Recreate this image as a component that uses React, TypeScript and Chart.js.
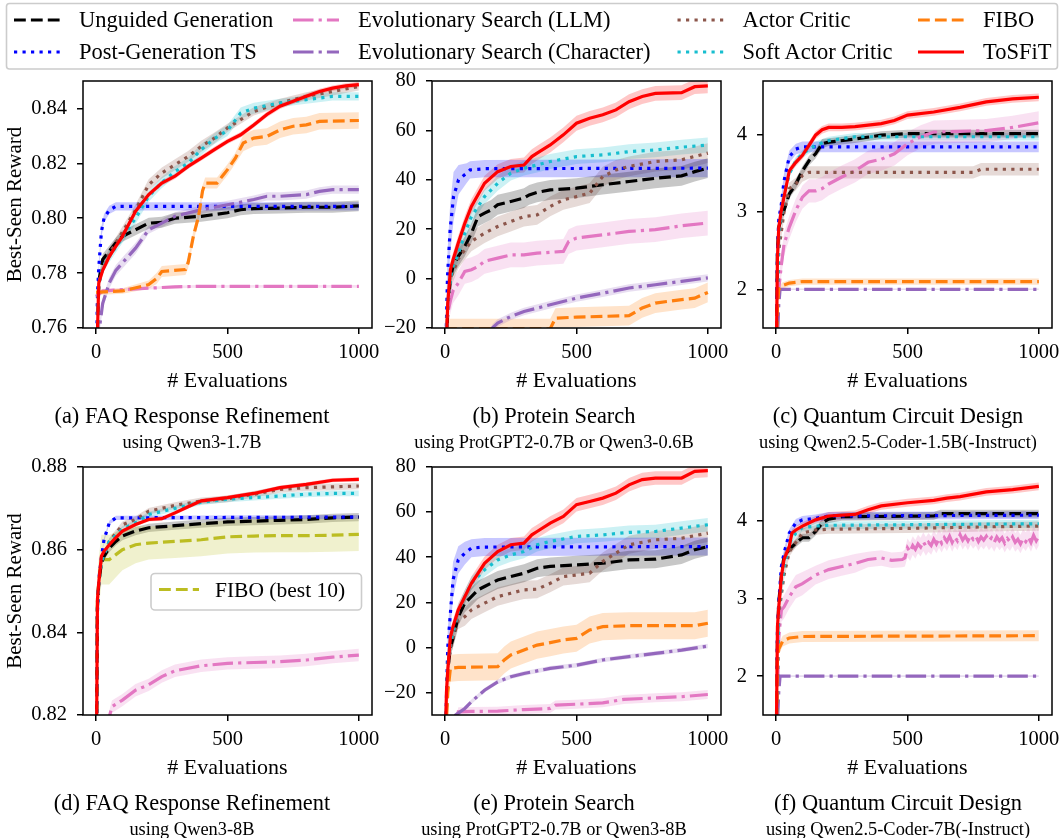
import React, { useEffect, useRef } from "react";
import { Chart, registerables } from "chart.js";

Chart.register(...registerables);

const FONT = "'Liberation Serif', 'Times New Roman', serif";

// ---------------- series names (legend order) ----------------
const SERIES_LABELS = [
  "Unguided Generation",
  "Post-Generation TS",
  "Evolutionary Search (LLM)",
  "Evolutionary Search (Character)",
  "Actor Critic",
  "Soft Actor Critic",
  "FIBO",
  "ToSFiT",
];
const FIBO_BEST10_LABEL = "FIBO (best 10)";

// ---------------- tick values ----------------
const X_TICKS = [0, 500, 1000];
const Y_TICKS_A = [0.76, 0.78, 0.8, 0.82, 0.84];
const Y_TICKS_B = [-20, 0, 20, 40, 60, 80];
const Y_TICKS_C = [2, 3, 4];
const Y_TICKS_D = [0.82, 0.84, 0.86, 0.88];
const Y_TICKS_E = [-20, 0, 20, 40, 60, 80];
const Y_TICKS_F = [2, 3, 4];

// ---------------- data: [evaluations, mean best-seen reward, band half-width] ----------------
// (a) FAQ Response Refinement, Qwen3-1.7B
const A_UNG = [[0,0.74,0.002],[10,0.777,0.002],[25,0.785,0.002],[50,0.788,0.002],[75,0.791,0.002],[100,0.7934,0.002],[150,0.7958,0.002],[200,0.7982,0.002],[250,0.7985,0.002],[300,0.8,0.002],[400,0.8007,0.002],[500,0.802,0.002],[550,0.8031,0.002],[600,0.8035,0.002],[700,0.8037,0.002],[800,0.804,0.002],[900,0.804,0.002],[1000,0.8045,0.002]];
const A_PGT = [[0,0.74,0.001],[5,0.772,0.002],[10,0.782,0.002],[20,0.795,0.002],[30,0.8,0.0015],[50,0.803,0.0015],[75,0.8043,0.0015],[1000,0.8043,0.0015]];
const A_ESL = [[0,0.7715,0.001],[25,0.7735,0.0008],[100,0.774,0.0005],[200,0.7745,0.0005],[300,0.775,0.0005],[400,0.7752,0.0005],[1000,0.7752,0.0005]];
const A_ESC = [[0,0.74,0.002],[10,0.758,0.002],[25,0.769,0.002],[50,0.7764,0.002],[75,0.781,0.002],[100,0.7837,0.002],[150,0.7891,0.002],[200,0.7958,0.0015],[250,0.7982,0.0015],[300,0.8007,0.0015],[400,0.8031,0.0015],[500,0.8049,0.0015],[600,0.8068,0.0015],[650,0.808,0.0015],[700,0.808,0.0015],[800,0.8086,0.0015],[850,0.8098,0.0015],[900,0.8104,0.0015],[1000,0.8104,0.0015]];
const A_AC = [[0,0.74,0.002],[10,0.776,0.002],[25,0.782,0.002],[50,0.787,0.002],[100,0.795,0.002],[150,0.803,0.002],[200,0.8122,0.002],[250,0.8165,0.002],[300,0.8195,0.002],[350,0.8225,0.002],[400,0.8262,0.002],[450,0.8292,0.002],[500,0.8329,0.0015],[550,0.8359,0.0015],[600,0.8389,0.0015],[700,0.842,0.0015],[800,0.8444,0.0015],[900,0.8462,0.0015],[1000,0.848,0.0015]];
const A_SAC = [[0,0.74,0.002],[10,0.776,0.002],[25,0.782,0.002],[50,0.786,0.002],[100,0.793,0.002],[150,0.8,0.002],[200,0.808,0.002],[250,0.813,0.002],[300,0.817,0.002],[350,0.82,0.002],[400,0.825,0.002],[450,0.829,0.002],[500,0.832,0.002],[550,0.8383,0.002],[600,0.8401,0.002],[700,0.842,0.0015],[800,0.8432,0.0015],[900,0.8444,0.0015],[1000,0.8444,0.0015]];
const A_FIBO = [[0,0.773,0.001],[100,0.7735,0.001],[200,0.7758,0.0015],[230,0.778,0.002],[250,0.7806,0.002],[340,0.7813,0.002],[350,0.7837,0.002],[370,0.7934,0.002],[390,0.8007,0.002],[405,0.81,0.002],[415,0.8128,0.002],[460,0.8128,0.002],[480,0.8153,0.002],[500,0.8177,0.002],[530,0.8219,0.002],[560,0.8274,0.003],[600,0.8292,0.003],[650,0.8298,0.003],[700,0.8322,0.003],[750,0.8335,0.003],[800,0.834,0.003],[850,0.8353,0.003],[1000,0.8356,0.003]];
const A_TOS = [[0,0.74,0.001],[10,0.7764,0.001],[25,0.781,0.001],[50,0.786,0.001],[75,0.7898,0.001],[100,0.7934,0.001],[125,0.798,0.001],[150,0.8025,0.001],[200,0.8086,0.001],[250,0.8128,0.001],[300,0.8153,0.001],[350,0.8189,0.001],[400,0.8219,0.001],[450,0.825,0.001],[500,0.828,0.001],[550,0.8304,0.001],[600,0.834,0.001],[650,0.8378,0.001],[700,0.8408,0.001],[750,0.8426,0.001],[800,0.8444,0.001],[850,0.8462,0.001],[900,0.8474,0.001],[950,0.8482,0.001],[1000,0.8487,0.001]];

// (b) Protein Search, ProtGPT2-0.7B or Qwen3-0.6B
const B_UNG = [[0,-40,4],[10,-13,4],[20,0,4],[30,5,4],[50,9,4],[75,13,4],[100,18.4,4],[125,25.1,4],[150,26.5,4],[175,27.8,4],[200,29.9,4],[250,31.2,4],[300,32.6,4],[320,33.9,4],[350,34.9,4],[400,35.9,4],[500,36.6,4],[600,38,4],[700,39.3,4],[800,40.6,4],[900,41.6,4],[950,43.3,4],[1000,44.7,4]];
const B_PGT = [[0,-40,6],[9,0.9,10],[19,19.8,10],[32,33.2,10],[51,40,6],[82,42.7,4],[95,44,3.5],[150,44.5,3.5],[1000,44.7,3.7]];
const B_ESL = [[0,-40,5],[5,-20,5],[10,-14,5],[20,-9,5],[30,-5,5],[50,-1.8,5],[75,2.9,5],[100,3.6,5],[125,4.9,5],[150,7,5],[200,8.3,5],[250,9.6,5],[300,9.6,5],[350,10.3,5],[450,11,5],[470,15,5],[500,16.4,5],[600,17.7,5],[700,19.1,5],[800,19.8,5],[900,21.4,5],[1000,22.5,5]];
const B_ESC = [[0,-60,1.5],[180,-20,1.5],[200,-18,1.5],[250,-15.3,1.5],[300,-13.3,1.5],[400,-10.6,1.5],[500,-7.9,1.5],[600,-5.9,1.5],[700,-3.8,1.5],[800,-2.5,1.5],[900,-1.1,1.5],[1000,0.3,1.5]];
const B_AC = [[0,-40,4],[10,-12,4],[20,0,4],[50,8,4],[75,11.7,4],[100,15.1,4],[150,18.4,4],[200,21.1,4],[250,23.1,4],[300,25.1,4],[350,25.8,4],[400,29.2,4],[450,31.9,4],[500,33.2,4],[550,34.6,4],[600,41.3,4],[650,44,4],[700,45.4,4],[800,47.4,4],[900,48.1,4],[1000,50.8,4]];
const B_SAC = [[0,-40,3],[10,-10,3],[20,0,3],[30,5,3],[50,10,3],[75,18.4,3],[100,25.1,3],[150,33.2,3],[200,38.6,3],[250,42.7,3],[300,44.7,3],[350,46,3],[400,47.4,3],[500,49.4,3],[600,50.1,3],[700,51.4,3],[800,52.1,3],[900,53.2,3],[1000,54.1,3]];
const B_FIBO = [[0,-20.3,4],[400,-20.3,4],[420,-16,4],[500,-15.6,4],[600,-15.3,4],[700,-15,4],[750,-11.9,4],[800,-9.9,4],[900,-8.5,4],[950,-7.9,4],[1000,-5.6,4]];
const B_TOS = [[0,-40,3],[10,-9.9,3],[20,3.6,3],[30,7.6,3],[50,14.4,3],[75,22.4,3],[100,29.2,3],[150,38.6,3],[200,43.3,3],[250,45.4,3],[300,46,3],[330,49.4,3],[350,50.8,3],[400,54.1,3],[450,58.2,3],[500,62.9,3],[550,64.9,3],[600,66.3,3],[650,68.3,3],[700,71.6,3],[750,73.7,3],[800,75,3],[900,75.3,3],[950,77.7,3],[1000,78,3]];

// (c) Quantum Circuit Design, Qwen2.5-Coder-1.5B(-Instruct)
const C_UNG = [[0,1,0.05],[5,2.5,0.08],[10,2.8,0.08],[20,2.92,0.06],[30,3.02,0.06],[50,3.23,0.06],[75,3.36,0.06],[100,3.53,0.06],[125,3.66,0.06],[150,3.75,0.06],[175,3.88,0.06],[200,3.9,0.05],[300,3.94,0.05],[400,3.99,0.05],[500,4.01,0.05],[1000,4.01,0.05]];
const C_PGT = [[0,1,0.05],[5,2.5,0.1],[10,2.9,0.1],[20,3.1,0.1],[30,3.4,0.1],[50,3.71,0.08],[75,3.81,0.07],[100,3.84,0.07],[1000,3.84,0.07]];
const C_ESL = [[0,1,0.1],[10,2,0.15],[20,2.32,0.15],[30,2.58,0.15],[50,2.8,0.15],[75,3.02,0.15],[100,3.19,0.15],[125,3.27,0.15],[150,3.27,0.15],[175,3.3,0.15],[200,3.36,0.15],[250,3.45,0.15],[300,3.53,0.15],[350,3.64,0.15],[400,3.68,0.15],[450,3.75,0.15],[500,3.88,0.15],[550,3.97,0.15],[600,4.03,0.15],[700,4.04,0.15],[800,4.05,0.15],[900,4.09,0.15],[1000,4.15,0.15]];
const C_ESC = [[0,1,0.01],[10,1.8,0.01],[15,2,0.01],[1000,2,0.01]];
const C_AC = [[0,1,0.08],[10,2.5,0.08],[30,3,0.08],[50,3.3,0.08],[75,3.36,0.08],[100,3.47,0.08],[125,3.51,0.08],[750,3.51,0.08],[780,3.55,0.08],[1000,3.55,0.08]];
const C_SAC = [[0,1,0.05],[10,2.7,0.05],[30,3.2,0.05],[50,3.49,0.05],[75,3.66,0.05],[100,3.75,0.05],[150,3.86,0.05],[200,3.92,0.05],[300,3.97,0.05],[1000,3.97,0.05]];
const C_FIBO = [[0,1,0.04],[5,1.8,0.04],[10,2,0.04],[25,2.05,0.04],[50,2.08,0.04],[100,2.1,0.04],[1000,2.1,0.04]];
const C_TOS = [[0,1,0.05],[5,2.41,0.05],[10,2.8,0.05],[20,3.02,0.05],[30,3.19,0.05],[50,3.53,0.05],[75,3.64,0.05],[100,3.73,0.05],[125,3.86,0.05],[150,3.99,0.05],[175,4.06,0.05],[200,4.09,0.05],[250,4.09,0.05],[300,4.1,0.05],[400,4.14,0.05],[450,4.18,0.05],[500,4.25,0.05],[600,4.29,0.05],[700,4.35,0.05],[800,4.42,0.05],[900,4.46,0.05],[1000,4.48,0.05]];

// (d) FAQ Response Refinement, Qwen3-8B
const D_UNG = [[0,0.8,0.001],[5,0.846,0.001],[10,0.852,0.001],[20,0.8568,0.001],[30,0.8584,0.001],[50,0.8604,0.001],[75,0.862,0.001],[100,0.8633,0.001],[150,0.8645,0.001],[200,0.8653,0.001],[300,0.8658,0.001],[400,0.8663,0.001],[500,0.8667,0.001],[600,0.8669,0.001],[700,0.8671,0.001],[800,0.8673,0.001],[900,0.8677,0.001],[1000,0.8679,0.001]];
const D_PGT = [[0,0.8,0.0005],[5,0.845,0.0005],[10,0.8527,0.0005],[20,0.858,0.0005],[30,0.8624,0.0005],[50,0.8665,0.0005],[75,0.8677,0.0005],[1000,0.8679,0.0005]];
const D_ESL = [[0,0.8,0.0015],[50,0.8195,0.0015],[60,0.822,0.0015],[100,0.8236,0.0015],[150,0.826,0.0015],[200,0.8273,0.0015],[250,0.8293,0.0015],[300,0.8307,0.0015],[400,0.8319,0.0015],[500,0.8325,0.0015],[600,0.8327,0.0015],[700,0.8329,0.0015],[800,0.8333,0.0015],[900,0.834,0.0015],[1000,0.8345,0.0015]];
const D_AC = [[0,0.8,0.0008],[5,0.847,0.0008],[10,0.852,0.0008],[20,0.857,0.0008],[50,0.862,0.0008],[100,0.866,0.0008],[150,0.8673,0.0008],[200,0.8693,0.0008],[300,0.8707,0.0008],[400,0.8718,0.0008],[500,0.8723,0.0008],[600,0.8734,0.0008],[700,0.8746,0.0008],[800,0.875,0.0008],[900,0.8752,0.0008],[1000,0.8754,0.0008]];
const D_SAC = [[0,0.8,0.0007],[5,0.847,0.0007],[10,0.852,0.0007],[20,0.857,0.0007],[50,0.862,0.0007],[100,0.865,0.0007],[150,0.8665,0.0007],[200,0.8685,0.0007],[300,0.87,0.0007],[400,0.8715,0.0007],[500,0.8722,0.0007],[600,0.8726,0.0007],[700,0.873,0.0007],[800,0.8734,0.0007],[900,0.8736,0.0007],[1000,0.8736,0.0007]];
const D_FB10 = [[0,0.8,0.006],[5,0.848,0.006],[10,0.852,0.006],[20,0.8576,0.006],[50,0.8576,0.006],[75,0.8588,0.0055],[100,0.86,0.005],[150,0.8612,0.0045],[200,0.8616,0.004],[300,0.862,0.004],[400,0.8624,0.004],[500,0.8631,0.004],[600,0.8633,0.004],[700,0.8634,0.004],[800,0.8634,0.004],[900,0.8635,0.004],[1000,0.8637,0.004]];
const D_TOS = [[0,0.8,0.0005],[5,0.848,0.0005],[10,0.852,0.0005],[20,0.8584,0.0005],[30,0.8596,0.0005],[50,0.8612,0.0005],[75,0.8629,0.0005],[100,0.8645,0.0005],[150,0.8661,0.0005],[200,0.8673,0.0005],[250,0.8675,0.0005],[300,0.8689,0.0005],[350,0.8704,0.0005],[400,0.8718,0.0005],[500,0.8726,0.0005],[600,0.8736,0.0005],[700,0.875,0.0005],[800,0.8758,0.0005],[900,0.8768,0.0005],[1000,0.877,0.0005]];

// (e) Protein Search, ProtGPT2-0.7B or Qwen3-8B
const E_UNG = [[0,-45,4],[10,-10,4],[20,0,4],[30,4,4],[50,13.6,4],[75,19.6,4],[100,22.5,4],[125,25.5,4],[150,27,4],[200,29.9,4],[250,31.4,4],[300,32.9,4],[350,35.1,4],[400,35.9,4],[500,36.6,4],[600,37.3,4],[700,38.8,4],[800,39.1,4],[900,41,4],[950,43.3,4],[1000,44.7,4]];
const E_PGT = [[0,-45,6],[10,0,8],[20,15.1,8],[30,29.9,8],[50,38.8,6],[75,41.8,5],[100,44,4],[150,44.5,4],[1000,44.7,4]];
const E_ESL = [[0,-60,2],[50,-28.6,2],[100,-28.4,2],[200,-28.3,2],[300,-27.6,2],[400,-27.1,2],[420,-25.6,2],[500,-25.2,2],[600,-24.6,2],[680,-23.1,2],[800,-22.4,2],[900,-21.9,2],[1000,-20.9,2]];
const E_ESC = [[0,-60,1],[40,-30,1],[75,-27.1,1],[100,-24.1,1],[150,-19,1],[200,-15.3,1],[250,-13,1],[300,-11.6,1],[400,-9.3,1],[500,-7.9,1],[600,-5.6,1],[700,-4.1,1],[800,-2.7,1],[900,-1.2,1],[1000,0.6,1]];
const E_AC = [[0,-45,4],[10,-10,4],[20,0,4],[50,12.1,4],[75,13.6,4],[100,16.6,4],[150,19.6,4],[200,22.5,4],[250,24,4],[300,25.5,4],[350,25.8,4],[400,28.4,4],[450,31.4,4],[500,32.1,4],[550,32.9,4],[600,38.1,4],[650,41.8,4],[700,45.5,4],[800,47.7,4],[900,48.4,4],[1000,50.7,4]];
const E_SAC = [[0,-45,3],[10,-8,3],[20,2,3],[50,15.9,3],[75,22.5,3],[100,28.4,3],[150,34.4,3],[200,38.8,3],[250,41,3],[300,42.5,3],[350,45.5,3],[400,47,3],[500,49.2,3],[600,49.9,3],[700,51,3],[800,51.4,3],[900,52.9,3],[1000,54.4,3]];
const E_FIBO = [[0,-45,6],[10,-20,6],[20,-9.3,6],[50,-8.9,6],[200,-8.6,6],[225,-5.6,6],[250,-3.4,6],[300,-1.2,6],[350,1,6],[400,2.1,6],[450,3.3,6],[500,4,6],[550,7.7,6],[600,9.2,6],[700,9.6,6],[950,9.6,6],[1000,10.7,6]];
const E_TOS = [[0,-45,3],[5,-20,3],[10,-10,3],[20,4.7,3],[30,9.2,3],[50,16.6,3],[75,22.5,3],[100,28.4,3],[150,37.3,3],[200,42.5,3],[250,45.5,3],[300,46.2,3],[330,49.9,3],[350,51.4,3],[400,55.1,3],[450,58.1,3],[500,63.3,3],[550,64.7,3],[600,66.2,3],[650,68.4,3],[700,72.1,3],[750,74.4,3],[800,75.1,3],[900,75.1,3],[950,78.1,3],[1000,78.4,3]];

// (f) Quantum Circuit Design, Qwen2.5-Coder-7B(-Instruct)
const F_UNG = [[0,1,0.05],[5,2.5,0.05],[10,2.95,0.05],[20,3.3,0.05],[30,3.54,0.05],[50,3.63,0.05],[75,3.71,0.05],[100,3.78,0.05],[125,3.78,0.05],[150,3.86,0.05],[175,3.97,0.05],[200,4.02,0.05],[250,4.05,0.05],[600,4.06,0.05],[625,4.09,0.05],[1000,4.09,0.05]];
const F_PGT = [[0,1,0.05],[5,2.6,0.05],[10,2.95,0.05],[20,3.41,0.05],[30,3.58,0.05],[50,3.84,0.05],[75,3.97,0.05],[100,4.01,0.05],[150,4.03,0.05],[200,4.06,0.05],[1000,4.07,0.05]];
const F_ESL = [[0,1,0.1],[10,2.5,0.15],[20,2.85,0.15],[30,2.89,0.15],[50,3.02,0.15],[75,3.15,0.15],[100,3.19,0.15],[150,3.3,0.12],[200,3.37,0.12],[250,3.41,0.12],[300,3.45,0.12],[350,3.5,0.1],[400,3.52,0.1],[440,3.49,0.1],[480,3.5,0.1],[490,3.52,0.11],[500,3.65,0.12],[510,3.6,0.12],[520,3.68,0.12],[530,3.63,0.12],[540,3.7,0.12],[550,3.66,0.12],[560,3.73,0.12],[570,3.67,0.12],[580,3.72,0.12],[590,3.68,0.12],[600,3.76,0.12],[610,3.7,0.12],[620,3.77,0.12],[630,3.71,0.12],[640,3.78,0.12],[650,3.73,0.12],[660,3.8,0.12],[670,3.72,0.12],[680,3.79,0.12],[690,3.74,0.12],[700,3.82,0.12],[710,3.75,0.12],[720,3.8,0.12],[730,3.74,0.12],[740,3.81,0.12],[750,3.76,0.12],[760,3.8,0.12],[770,3.73,0.12],[780,3.79,0.12],[790,3.75,0.12],[800,3.8,0.12],[810,3.74,0.12],[820,3.78,0.12],[830,3.72,0.12],[840,3.79,0.12],[850,3.74,0.12],[860,3.78,0.12],[870,3.71,0.12],[880,3.77,0.12],[890,3.73,0.12],[900,3.79,0.12],[910,3.72,0.12],[920,3.76,0.12],[930,3.7,0.12],[940,3.77,0.12],[950,3.73,0.12],[960,3.79,0.12],[970,3.72,0.12],[980,3.81,0.12],[990,3.74,0.12],[1000,3.8,0.12]];
const F_ESC = [[0,1,0.01],[10,1.8,0.01],[15,2,0.01],[1000,2,0.01]];
const F_AC = [[0,1,0.06],[10,2.8,0.06],[30,3.3,0.06],[50,3.6,0.06],[100,3.84,0.06],[150,3.88,0.06],[200,3.89,0.06],[500,3.9,0.06],[800,3.92,0.06],[1000,3.93,0.06]];
const F_SAC = [[0,1,0.05],[10,2.9,0.05],[30,3.4,0.05],[50,3.71,0.05],[75,3.84,0.05],[100,3.91,0.05],[150,3.93,0.05],[200,3.94,0.05],[1000,3.96,0.05]];
const F_FIBO = [[0,1,0.07],[5,2.2,0.07],[10,2.35,0.07],[25,2.45,0.07],[50,2.49,0.07],[100,2.51,0.07],[1000,2.52,0.07]];
const F_TOS = [[0,1,0.05],[5,2.63,0.05],[10,2.89,0.05],[20,3.28,0.05],[30,3.5,0.05],[50,3.67,0.05],[60,3.84,0.05],[75,3.88,0.05],[100,3.93,0.05],[150,4.01,0.05],[200,4.06,0.05],[300,4.08,0.05],[350,4.14,0.05],[400,4.19,0.05],[500,4.23,0.05],[600,4.26,0.05],[650,4.29,0.05],[700,4.31,0.05],[800,4.37,0.05],[900,4.4,0.05],[1000,4.44,0.05]];

// ---------------- styles ----------------
const LW = 3.2;
const DASHED = [11.8, 5.1];
const DOTTED = [3.2, 5.3];
const DASHDOT = [20.5, 5.1, 3.2, 5.1];
const SOLID: number[] = [];
const COLORS = ["#000000", "#0000ff", "#e377c2", "#9467bd", "#8c564b", "#17becf", "#ff7f0e", "#ff0000"];
const DASHES = [DASHED, DOTTED, DASHDOT, DASHDOT, DOTTED, DOTTED, DASHED, SOLID];
const FIBO10_COLOR = "#bcbd22";
const BAND_ALPHA = 0.22;

// ---------------- layout ----------------
const COL_LEFT = [83, 432, 763];
const ROW_TOP = [81, 467];
const BOX_W = 289;
const BOX_H = [247, 248];
const PAD_T = 14;
const PAD_R = 10;
const X_H = 66;
const CAP_X = [192, 554, 898];
const CAP_Y = [423, 809.5];
const SUB_Y = [448, 834.5];

type Panel = {
  col: number; row: number; series: (number[][] | null)[]; extra: number[][] | null;
  yMin: number; yMax: number; yTicks: number[]; dec: number; caption: string; sub: string;
};

const PANELS: Panel[] = [
  { col: 0, row: 0, series: [A_UNG, A_PGT, A_ESL, A_ESC, A_AC, A_SAC, A_FIBO, A_TOS], extra: null, yMin: 0.76, yMax: 0.85, yTicks: Y_TICKS_A, dec: 2, caption: "(a) FAQ Response Refinement", sub: "using Qwen3-1.7B" },
  { col: 1, row: 0, series: [B_UNG, B_PGT, B_ESL, B_ESC, B_AC, B_SAC, B_FIBO, B_TOS], extra: null, yMin: -20, yMax: 80, yTicks: Y_TICKS_B, dec: 0, caption: "(b) Protein Search", sub: "using ProtGPT2-0.7B or Qwen3-0.6B" },
  { col: 2, row: 0, series: [C_UNG, C_PGT, C_ESL, C_ESC, C_AC, C_SAC, C_FIBO, C_TOS], extra: null, yMin: 1.5, yMax: 4.69, yTicks: Y_TICKS_C, dec: 0, caption: "(c) Quantum Circuit Design", sub: "using Qwen2.5-Coder-1.5B(-Instruct)" },
  { col: 0, row: 1, series: [D_UNG, D_PGT, D_ESL, null, D_AC, D_SAC, null, D_TOS], extra: D_FB10, yMin: 0.82, yMax: 0.88, yTicks: Y_TICKS_D, dec: 2, caption: "(d) FAQ Response Refinement", sub: "using Qwen3-8B" },
  { col: 1, row: 1, series: [E_UNG, E_PGT, E_ESL, E_ESC, E_AC, E_SAC, E_FIBO, E_TOS], extra: null, yMin: -30, yMax: 80, yTicks: Y_TICKS_E, dec: 0, caption: "(e) Protein Search", sub: "using ProtGPT2-0.7B or Qwen3-8B" },
  { col: 2, row: 1, series: [F_UNG, F_PGT, F_ESL, F_ESC, F_AC, F_SAC, F_FIBO, F_TOS], extra: null, yMin: 1.5, yMax: 4.69, yTicks: Y_TICKS_F, dec: 0, caption: "(f) Quantum Circuit Design", sub: "using Qwen2.5-Coder-7B(-Instruct)" },
];

function rgba(hex: string, a: number) {
  const n = parseInt(hex.slice(1), 16);
  return `rgba(${(n >> 16) & 255},${(n >> 8) & 255},${n & 255},${a})`;
}

const framePlugin = {
  id: "frame",
  afterDatasetsDraw(chart: any) {
    const { ctx, chartArea } = chart;
    ctx.save();
    ctx.strokeStyle = "#000";
    ctx.lineWidth = 1.5;
    ctx.strokeRect(chartArea.left, chartArea.top, chartArea.right - chartArea.left, chartArea.bottom - chartArea.top);
    ctx.restore();
  },
};

function PanelChart({ p }: { p: Panel }) {
  const ref = useRef<HTMLCanvasElement>(null);
  const yw = p.col === 0 ? 83 : 60;
  const w = yw + BOX_W + PAD_R;
  const h = PAD_T + BOX_H[p.row] + X_H;
  useEffect(() => {
    const datasets: any[] = [];
    const addSeries = (pts: number[][], color: string, dash: number[], order: number) => {
      datasets.push({ data: pts.map((q) => ({ x: q[0], y: q[1] - q[2] })), borderWidth: 0, borderColor: "rgba(0,0,0,0)", pointRadius: 0, fill: false, order: 100 });
      datasets.push({ data: pts.map((q) => ({ x: q[0], y: q[1] + q[2] })), borderWidth: 0, borderColor: "rgba(0,0,0,0)", pointRadius: 0, fill: "-1", backgroundColor: rgba(color, BAND_ALPHA), order: 100 });
      datasets.push({ data: pts.map((q) => ({ x: q[0], y: q[1] })), borderColor: color, borderWidth: LW, borderDash: dash, pointRadius: 0, fill: false, tension: 0, order });
    };
    if (p.extra) addSeries(p.extra, FIBO10_COLOR, DASHED, 9);
    p.series.forEach((s, i) => {
      if (s) addSeries(s, COLORS[i], DASHES[i], 7 - i);
    });
    const fmtY = (v: number) => (p.dec ? v.toFixed(p.dec) : v < 0 ? "\u2212" + Math.abs(v) : String(v));
    const chart = new Chart(ref.current as HTMLCanvasElement, {
      type: "line",
      data: { datasets },
      plugins: [framePlugin],
      options: {
        animation: false,
        responsive: false,
        devicePixelRatio: 1,
        events: [],
        layout: { padding: { top: PAD_T, right: PAD_R, left: 0, bottom: 0 } },
        plugins: { legend: { display: false }, tooltip: { enabled: false }, filler: { drawTime: "beforeDatasetsDraw" } },
        scales: {
          x: {
            type: "linear", min: -50, max: 1050,
            afterBuildTicks: (s: any) => { s.ticks = X_TICKS.map((v) => ({ value: v })); },
            afterFit: (s: any) => { s.height = X_H; s.paddingLeft = 0; s.paddingRight = 0; },
            grid: { display: true, drawOnChartArea: false, drawTicks: true, tickLength: 6, color: "#000", lineWidth: 1.5 },
            border: { display: false },
            ticks: { font: { family: FONT, size: 20.5 }, color: "#000", padding: 6, maxRotation: 0, autoSkip: false, callback: (v: any) => String(v) },
            title: { display: true, text: "# Evaluations", font: { family: FONT, size: 22 }, color: "#000", padding: { top: 0, bottom: 0 } },
          },
          y: {
            type: "linear", min: p.yMin, max: p.yMax,
            afterBuildTicks: (s: any) => { s.ticks = p.yTicks.map((v) => ({ value: v })); },
            afterFit: (s: any) => { s.width = yw; s.paddingTop = 0; s.paddingBottom = 0; },
            grid: { display: true, drawOnChartArea: false, drawTicks: true, tickLength: 6, color: "#000", lineWidth: 1.5 },
            border: { display: false },
            ticks: { font: { family: FONT, size: 20.5 }, color: "#000", padding: 10, autoSkip: false, callback: (v: any) => fmtY(Number(v)) },
            title: { display: p.col === 0, text: "Best-Seen Reward", font: { family: FONT, size: 21 }, color: "#000", padding: { top: 3, bottom: 0 } },
          },
        },
      } as any,
    });
    return () => chart.destroy();
  }, []);
  return (
    <canvas
      ref={ref}
      width={w}
      height={h}
      style={{ position: "absolute", left: COL_LEFT[p.col] - yw, top: ROW_TOP[p.row] - PAD_T, width: w, height: h }}
    />
  );
}

const LEG_TEXT_X = [79, 358, 742.5, 983];
const LEG_ROW_Y = [20, 52];
const LEG_BASE_Y = [27, 59];

function dashStr(d: number[]) {
  return d.length ? d.join(" ") : "none";
}

export default function App() {
  return (
    <div style={{ position: "absolute", left: 0, top: 0, width: 1063, height: 838, overflow: "hidden", background: "#fff" }}>
      {PANELS.map((p, i) => (
        <PanelChart key={i} p={p} />
      ))}
      <svg width={1063} height={838} style={{ position: "absolute", left: 0, top: 0, pointerEvents: "none" }} fontFamily={FONT}>
        <rect x={6.5} y={3.5} width={1051} height={65.5} rx={3} fill="#fff" fillOpacity={0.85} stroke="#cccccc" strokeWidth={1.6} />
        {SERIES_LABELS.map((lab, i) => {
          const c = Math.floor(i / 2);
          const r = i % 2;
          const tx = LEG_TEXT_X[c];
          return (
            <g key={lab}>
              <line x1={tx - 65} x2={tx - 19} y1={LEG_ROW_Y[r]} y2={LEG_ROW_Y[r]} stroke={COLORS[i]} strokeWidth={LW} strokeDasharray={dashStr(DASHES[i])} />
              <text x={tx} y={LEG_BASE_Y[r]} fontSize={22.5} fill="#000">{lab}</text>
            </g>
          );
        })}
        <rect x={151} y={573.5} width={210.5} height={36.5} rx={4} fill="#fff" fillOpacity={0.85} stroke="#cccccc" strokeWidth={1.6} />
        <line x1={159} x2={199} y1={589.5} y2={589.5} stroke={FIBO10_COLOR} strokeWidth={LW} strokeDasharray={dashStr(DASHED)} />
        <text x={215} y={596.5} fontSize={21.5} fill="#000">{FIBO_BEST10_LABEL}</text>
        {PANELS.map((p, i) => (
          <g key={"cap" + i}>
            <text x={CAP_X[p.col]} y={CAP_Y[p.row]} fontSize={22.4} textAnchor="middle" fill="#000">{p.caption}</text>
            <text x={CAP_X[p.col]} y={SUB_Y[p.row]} fontSize={18.4} textAnchor="middle" fill="#000">{p.sub}</text>
          </g>
        ))}
      </svg>
    </div>
  );
}
